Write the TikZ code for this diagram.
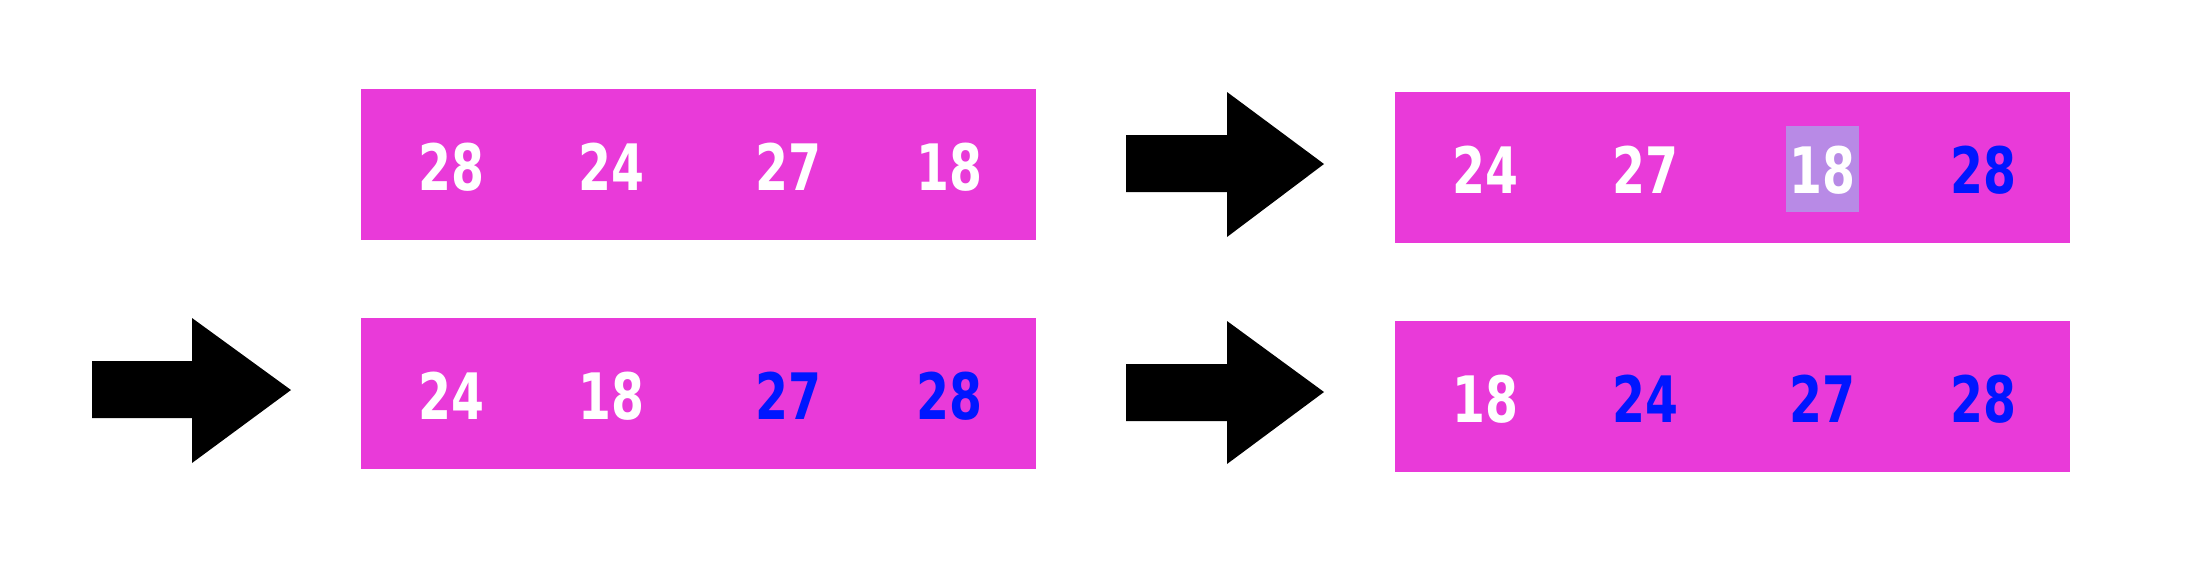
\documentclass[tikz,border=0pt]{standalone}
\usepackage{fontspec}
\newfontfamily\zahlfont{DejaVu Sans}[FakeStretch=0.74]

\definecolor{kastenfarbe}{RGB}{233,58,217}
\definecolor{zahlblau}{RGB}{0,22,255}
\definecolor{lila}{RGB}{184,138,230}

\tikzset{
	kasten/.style={fill=kastenfarbe, minimum width=675pt, minimum height=151pt, inner sep=0pt, anchor=north west},
	zahl/.style={font=\zahlfont\bfseries\fontsize{64}{64}\selectfont, text=white, anchor=base, inner sep=0pt},
	fertig/.style={zahl, text=zahlblau},
	markiert/.style={fill=lila, minimum width=73pt, minimum height=86pt, inner sep=0pt},
	pfeil/.style={fill=black}
}

\begin{document}
\begin{tikzpicture}[x=1pt,y=-1pt]
	\useasboundingbox (0,0) rectangle (2186,566);

	% Kaesten
	\node[kasten] (k1) at (361,89) {};
	\node[kasten] (k2) at (1395,92) {};
	\node[kasten] (k3) at (361,318) {};
	\node[kasten] (k4) at (1395,321) {};

	% Pfeile
	\fill[pfeil] (1126,135) -- (1227,135) -- (1227,92) -- (1324,164) -- (1227,237) -- (1227,192) -- (1126,192) -- cycle; % oben
	\fill[pfeil] (92,361) -- (192,361) -- (192,318) -- (291,390) -- (192,463) -- (192,418) -- (92,418) -- cycle; % links
	\fill[pfeil] (1126,364) -- (1227,364) -- (1227,321) -- (1324,392) -- (1227,464) -- (1227,421) -- (1126,421) -- cycle; % unten

	% Ausgangsfolge
	\node[zahl] (a1) at (451,190) {28};
	\node[zahl] (a2) at (611,190) {24};
	\node[zahl] (a3) at (788,190) {27};
	\node[zahl] (a4) at (949,190) {18};

	% erster Durchlauf
	\node[markiert] (m) at (1822.5,169) {};
	\node[zahl] (b1) at (1485,193) {24};
	\node[zahl] (b2) at (1645,193) {27};
	\node[zahl] (b3) at (1822,193) {18};
	\node[fertig] (b4) at (1983,193) {28};

	% zweiter Durchlauf
	\node[zahl] (c1) at (451,419) {24};
	\node[zahl] (c2) at (611,419) {18};
	\node[fertig] (c3) at (788,419) {27};
	\node[fertig] (c4) at (949,419) {28};

	% dritter Durchlauf
	\node[zahl] (d1) at (1485,422) {18};
	\node[fertig] (d2) at (1645,422) {24};
	\node[fertig] (d3) at (1822,422) {27};
	\node[fertig] (d4) at (1983,422) {28};
\end{tikzpicture}
\end{document}
